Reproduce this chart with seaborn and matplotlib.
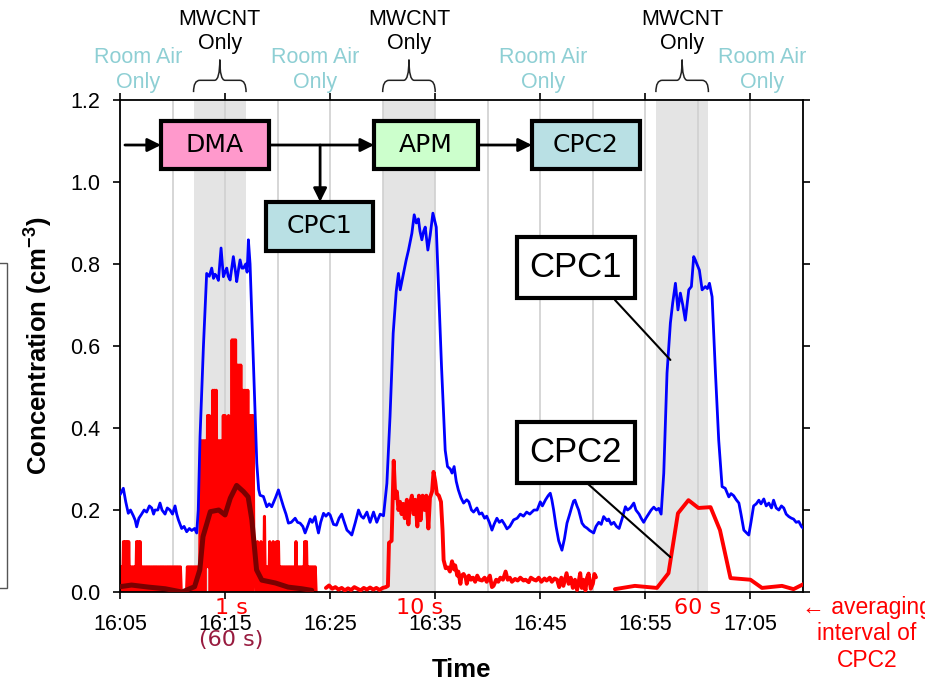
import numpy as np
import matplotlib
matplotlib.use("Agg")
import matplotlib.pyplot as plt
import matplotlib.patches as mpatches
import matplotlib.transforms as mtransforms
from matplotlib.path import Path
import seaborn as sns

# time axis: minutes after 16:05
tick_labels = ["16:05", "16:15", "16:25", "16:35", "16:45", "16:55", "17:05"]
mwcnt_start = [7, 25, 51]
mwcnt_end = [12, 30, 56]
room_air_x = [1.7, 18.6, 40.3, 61.1]

# CPC1 (blue)
cpc1_t = [0.0, 0.32, 0.55, 0.79, 1.0, 1.27, 1.45, 1.59, 1.8, 2.06, 2.3, 2.54, 2.8, 3.02, 3.2, 3.33,
          3.6, 3.81, 4.0, 4.29, 4.5, 4.76, 5.0, 5.24, 5.4, 5.56, 5.87, 6.1, 6.35, 6.6, 6.83, 7.1,
          7.3, 7.45, 7.62, 7.94, 8.25, 8.5, 8.73, 8.9, 9.05, 9.2, 9.37, 9.62, 9.84, 10.0, 10.16,
          10.3, 10.48, 10.79, 11.0, 11.11, 11.3, 11.43, 11.6, 11.75, 11.97, 12.1, 12.22, 12.38,
          12.7, 13.02, 13.2, 13.33, 13.65, 13.97, 14.2, 14.44, 14.8, 15.08, 15.3, 15.56, 15.8,
          16.03, 16.3, 16.67, 16.9, 17.14, 17.4, 17.62, 17.85, 18.1, 18.3, 18.57, 18.75, 18.89,
          19.1, 19.37, 19.6, 19.84, 20.0, 20.32, 20.6, 20.85, 21.1, 21.35, 21.6, 21.85, 22.06,
          22.4, 22.7, 22.95, 23.17, 23.5, 23.8, 24.13, 24.44, 24.76, 25.08, 25.4, 25.7, 26.0,
          26.29, 26.5, 26.67, 26.98, 27.24, 27.46, 27.78, 28.0, 28.2, 28.4, 28.55, 28.73, 28.9,
          29.05, 29.3, 29.52, 29.78, 30.1, 30.3, 30.6, 30.95, 31.17, 31.43, 31.6, 31.8, 32.0,
          32.2, 32.45, 32.7, 33.0, 33.2, 33.45, 33.65, 33.97, 34.2, 34.44, 34.7, 34.9, 35.15,
          35.4, 35.6, 35.87, 36.1, 36.35, 36.6, 36.83, 37.1, 37.46, 37.8, 38.1, 38.4, 38.7, 39.0,
          39.4, 39.7, 40.0, 40.2, 40.5, 40.75, 40.95, 41.1, 41.27, 41.5, 41.75, 42.06, 42.3,
          42.54, 42.8, 43.0, 43.17, 43.3, 43.49, 43.65, 43.97, 44.2, 44.44, 44.7, 45.08, 45.3,
          45.56, 45.8, 46.03, 46.35, 46.5, 46.75, 47.0, 47.25, 47.5, 47.8, 48.1, 48.3, 48.57,
          48.9, 49.1, 49.4, 49.6, 49.84, 50.05, 50.3, 50.55, 50.8, 51.05, 51.27, 51.5, 51.75,
          52.06, 52.38, 52.6, 52.86, 53.1, 53.33, 53.56, 53.8, 54.13, 54.38, 54.6, 54.75, 54.9,
          55.14, 55.4, 55.71, 55.9, 56.1, 56.35, 56.67, 56.98, 57.3, 57.6, 57.94, 58.15, 58.4,
          58.65, 58.9, 59.1, 59.37, 59.6, 59.84, 60.05, 60.3, 60.55, 60.8, 61.0, 61.27, 61.5,
          61.75, 62.0, 62.2, 62.45, 62.7, 62.95, 63.17, 63.4, 63.65, 63.9, 64.1, 64.35, 64.6,
          64.85, 65.0]
cpc1_v = [0.237, 0.253, 0.22, 0.192, 0.2, 0.186, 0.175, 0.159, 0.18, 0.19, 0.2, 0.195, 0.21, 0.205,
          0.19, 0.2, 0.2, 0.217, 0.2, 0.19, 0.205, 0.2, 0.19, 0.21, 0.19, 0.176, 0.155, 0.16, 0.147,
          0.155, 0.15, 0.155, 0.144, 0.2, 0.379, 0.598, 0.777, 0.77, 0.79, 0.765, 0.775, 0.77, 0.76,
          0.839, 0.769, 0.78, 0.79, 0.77, 0.761, 0.818, 0.78, 0.757, 0.79, 0.81, 0.79, 0.79, 0.8,
          0.78, 0.859, 0.8, 0.558, 0.314, 0.25, 0.236, 0.233, 0.208, 0.215, 0.208, 0.23, 0.249,
          0.23, 0.208, 0.19, 0.168, 0.17, 0.18, 0.17, 0.168, 0.16, 0.144, 0.16, 0.178, 0.17, 0.184,
          0.16, 0.144, 0.17, 0.192, 0.185, 0.192, 0.188, 0.165, 0.163, 0.18, 0.19, 0.17, 0.151,
          0.145, 0.139, 0.17, 0.2, 0.185, 0.18, 0.195, 0.17, 0.195, 0.17, 0.19, 0.186, 0.265,
          0.428, 0.631, 0.733, 0.777, 0.737, 0.777, 0.81, 0.834, 0.875, 0.92, 0.9, 0.91, 0.88,
          0.859, 0.88, 0.89, 0.834, 0.87, 0.924, 0.89, 0.753, 0.55, 0.346, 0.306, 0.3, 0.29, 0.306,
          0.27, 0.249, 0.23, 0.217, 0.225, 0.22, 0.2, 0.195, 0.205, 0.19, 0.193, 0.18, 0.185, 0.17,
          0.151, 0.165, 0.18, 0.17, 0.175, 0.165, 0.154, 0.16, 0.176, 0.18, 0.19, 0.185, 0.195,
          0.19, 0.2, 0.2, 0.22, 0.21, 0.225, 0.235, 0.241, 0.225, 0.2, 0.16, 0.125, 0.102, 0.13,
          0.168, 0.19, 0.208, 0.222, 0.224, 0.21, 0.2, 0.168, 0.16, 0.156, 0.15, 0.144, 0.16, 0.17,
          0.165, 0.184, 0.174, 0.178, 0.165, 0.17, 0.16, 0.155, 0.18, 0.208, 0.2, 0.205, 0.217,
          0.2, 0.19, 0.18, 0.17, 0.18, 0.19, 0.2, 0.207, 0.2, 0.204, 0.19, 0.29, 0.534, 0.656,
          0.705, 0.753, 0.688, 0.729, 0.7, 0.663, 0.737, 0.745, 0.818, 0.81, 0.8, 0.785, 0.737,
          0.745, 0.74, 0.753, 0.72, 0.534, 0.37, 0.257, 0.253, 0.232, 0.24, 0.235, 0.225, 0.217,
          0.19, 0.151, 0.145, 0.139, 0.17, 0.21, 0.215, 0.224, 0.215, 0.227, 0.21, 0.217, 0.205,
          0.224, 0.205, 0.2, 0.21, 0.205, 0.19, 0.184, 0.18, 0.178, 0.17, 0.172, 0.16, 0.156]

# CPC2, 1 s data: particle counts per 5 s step, one string per minute (hex digits)
cpc2_1s_counts = ["101020202020", "010101020202", "010101010101", "010101010101",
                  "010101010101", "010101010100", "000001010101", "010101016061",
                  "606171706180", "818061606170", "71607150a1a0", "a19091908180",
                  "818071707110", "020102010301", "010201020102", "020101010101",
                  "010101010201", "010101020201", "010101010"]
count_level = 0.0615   # cm-3 per count

# CPC2, 60 s running mean of the 1 s data
cpc2_avg_t = [0.0, 1.1, 2.7, 4.3, 5.9, 7.1, 7.6, 7.9, 8.6, 9.4, 10.0, 10.5, 11.1, 11.75,
              12.2, 12.55, 13.0, 13.5, 14.8, 16.0, 17.3, 18.25]
cpc2_avg_v = [0.013, 0.017, 0.012, 0.008, 0.0, 0.013, 0.054, 0.135, 0.196, 0.2, 0.188, 0.229,
              0.26, 0.245, 0.232, 0.176, 0.054, 0.029, 0.022, 0.012, 0.008, 0.004]

# CPC2, 10 s data
cpc2_10s_t = [19.6, 19.9, 20.2, 20.5, 20.8, 21.1, 21.4, 21.7, 22.0, 22.3, 22.6, 22.9, 23.2, 23.5,
              23.8, 24.1, 24.4, 24.7, 25.0, 25.3, 25.5, 25.6, 25.85, 26.05, 26.2, 26.35, 26.5,
              26.65, 26.8, 26.95, 27.1, 27.3, 27.45, 27.6, 27.78, 27.95, 28.1, 28.3, 28.45, 28.6,
              28.8, 29.0, 29.15, 29.35, 29.5, 29.7, 29.84, 30.0, 30.15, 30.35, 30.55, 30.7, 30.8,
              31.0, 31.2, 31.4, 31.6, 31.8, 31.9, 32.1, 32.2, 32.4, 32.5, 32.7, 32.9, 33.0, 33.2,
              33.4, 33.6, 33.8, 34.0, 34.2, 34.45, 34.7, 34.9, 35.2, 35.4, 35.55, 35.8, 36.0, 36.2,
              36.45, 36.7, 36.9, 37.1, 37.3, 37.6, 37.85, 38.1, 38.4, 38.6, 38.9, 39.1, 39.4, 39.6,
              39.85, 40.1, 40.4, 40.6, 40.9, 41.1, 41.35, 41.6, 41.8, 42.0, 42.2, 42.5, 42.7, 42.9,
              43.1, 43.3, 43.5, 43.65, 43.8, 43.95, 44.1, 44.3, 44.45, 44.6, 44.8, 45.0, 45.15, 45.3]
cpc2_10s_v = [0.01, 0.016, 0.008, 0.012, 0.006, 0.01, 0.004, 0.009, 0.005, 0.012, 0.008, 0.004,
              0.01, 0.006, 0.011, 0.006, 0.01, 0.005, 0.01, 0.012, 0.015, 0.12, 0.125, 0.32, 0.23,
              0.245, 0.2, 0.22, 0.19, 0.215, 0.18, 0.225, 0.165, 0.215, 0.235, 0.19, 0.225, 0.16,
              0.235, 0.175, 0.235, 0.2, 0.235, 0.155, 0.23, 0.245, 0.293, 0.27, 0.24, 0.235, 0.22,
              0.15, 0.078, 0.058, 0.06, 0.05, 0.075, 0.055, 0.065, 0.04, 0.05, 0.02, 0.04, 0.044,
              0.035, 0.02, 0.04, 0.03, 0.035, 0.025, 0.04, 0.03, 0.028, 0.035, 0.025, 0.04, 0.012,
              0.015, 0.03, 0.025, 0.035, 0.03, 0.05, 0.03, 0.035, 0.025, 0.032, 0.028, 0.035, 0.028,
              0.03, 0.024, 0.035, 0.03, 0.028, 0.035, 0.025, 0.033, 0.028, 0.035, 0.025, 0.033,
              0.03, 0.012, 0.035, 0.015, 0.046, 0.02, 0.035, 0.01, 0.03, 0.005, 0.025, 0.046, 0.01,
              0.03, 0.004, 0.035, 0.045, 0.008, 0.02, 0.044, 0.036]

# CPC2, 60 s data
cpc2_60s_t = [47.1, 49.0, 51.1, 52.2, 53.1, 54.1, 55.05, 56.2, 57.1, 58.1, 60.0, 61.1, 63.0,
              64.1, 65.1]
cpc2_60s_v = [0.007, 0.015, 0.01, 0.046, 0.192, 0.224, 0.205, 0.207, 0.151, 0.034, 0.03, 0.01,
              0.015, 0.007, 0.02]

# ---------------------------------------------------------------------------
sns.set_style("ticks")
plt.rcParams["font.family"] = ["Liberation Sans", "DejaVu Sans"]
plt.rcParams["mathtext.fontset"] = "custom"
plt.rcParams["mathtext.rm"] = "Liberation Sans"
plt.rcParams["mathtext.bf"] = "Liberation Sans:bold"
plt.rcParams["text.color"] = "black"
plt.rcParams["axes.labelcolor"] = "black"
plt.rcParams["path.simplify"] = False   # keep the dense 1 s spikes

fig = plt.figure(figsize=(9.25, 6.83), dpi=100)
ax = fig.add_axes([0.1297, 0.1332, 0.7384, 0.7204])

for a, b in zip(mwcnt_start, mwcnt_end):
    ax.axvspan(a, b, color="#E4E4E4", zorder=0, lw=0)

# 1 s data
counts = [int(c, 16) for s in cpc2_1s_counts for c in s]
t_1s = np.arange(len(counts)) * 5 / 60
sns.lineplot(x=t_1s, y=np.array(counts) * count_level, ax=ax, color="#FF0000", lw=2.2,
             estimator=None, sort=False, zorder=2)
sns.lineplot(x=cpc2_avg_t, y=cpc2_avg_v, ax=ax, color="#7A0000", lw=3.6,
             estimator=None, sort=False, zorder=3)
sns.lineplot(x=cpc1_t, y=cpc1_v, ax=ax, color="#0000FF", lw=2.0,
             estimator=None, sort=False, zorder=4)
sns.lineplot(x=cpc2_10s_t, y=cpc2_10s_v, ax=ax, color="#FF0000", lw=2.8,
             estimator=None, sort=False, zorder=3)
sns.lineplot(x=cpc2_60s_t, y=cpc2_60s_v, ax=ax, color="#FF0000", lw=2.8,
             estimator=None, sort=False, zorder=3)

# axes
tick_pos = [int(s[:2]) * 60 + int(s[3:]) - (16 * 60 + 5) for s in tick_labels]
ax.set_xlim(0, 65)
ax.set_ylim(0, 1.2)
ax.set_xticks(tick_pos)
ax.set_xticklabels(tick_labels)
ax.set_xticks(np.arange(0, 66, 5), minor=True)
ax.set_yticks(np.arange(0, 1.21, 0.2))
ax.set_yticklabels([f"{v:.1f}" for v in np.arange(0, 1.21, 0.2)])
ax.set_axisbelow(True)
ax.grid(True, which="both", axis="x", color="#D0D0D0", lw=1.2)
ax.grid(False, axis="y")
ax.tick_params(which="major", direction="out", length=5, width=1.2, top=True, right=True,
               labelsize=15.5, colors="black")
ax.tick_params(axis="x", pad=11)
ax.tick_params(axis="y", pad=9)
ax.tick_params(which="minor", length=0)
for sp in ax.spines.values():
    sp.set_visible(True)
    sp.set_linewidth(1.3)
    sp.set_color("black")

ax.set_xlabel("Time", fontsize=18.5, fontweight="bold", va="center")
ax.xaxis.set_label_coords(0.5, -0.1585)
ax.set_ylabel("Concentration (cm$^{\\mathbf{-3}}$)", fontsize=18.5, fontweight="bold", va="center")
ax.yaxis.set_label_coords(-0.12, 0.5)

# braces and period labels above the axes
trans = mtransforms.blended_transform_factory(ax.transData, ax.transAxes)
for a, b in zip(mwcnt_start, mwcnt_end):
    w = b - a
    m = (a + b) / 2
    y0, y1, y2 = 1.016, 1.04, 1.082
    verts = [(a, y0), (a, y1), (a + 0.12 * w, y1), (m - 0.1 * w, y1), (m, y1), (m, y2),
             (m, y1), (m + 0.1 * w, y1), (b - 0.12 * w, y1), (b, y1), (b, y0)]
    codes = [Path.MOVETO, Path.CURVE3, Path.CURVE3, Path.LINETO, Path.CURVE3, Path.CURVE3,
             Path.CURVE3, Path.CURVE3, Path.LINETO, Path.CURVE3, Path.CURVE3]
    ax.add_patch(mpatches.PathPatch(Path(verts, codes), transform=trans, fill=False,
                                    ec="#222222", lw=1.1, clip_on=False))
    ax.text(m, 1.139, "MWCNT\nOnly", transform=trans, ha="center", va="center",
            fontsize=15.5, color="black", linespacing=1.2)
for x in room_air_x:
    ax.text(x, 1.061, "Room Air\nOnly", transform=trans, ha="center", va="center",
            fontsize=15.5, color="#8ECFD4", linespacing=1.2)

# flow diagram
def flow_box(x0, x1, y0, y1, label, color):
    ax.add_patch(mpatches.Rectangle((x0, y0), x1 - x0, y1 - y0, transform=ax.transAxes,
                                    facecolor=color, edgecolor="black", lw=3, zorder=6))
    ax.text((x0 + x1) / 2, (y0 + y1) / 2, label, transform=ax.transAxes, ha="center",
            va="center", fontsize=18, family="DejaVu Sans", color="black", zorder=7)

flow_box(0.060, 0.218, 0.860, 0.957, "DMA", "#FF99CC")
flow_box(0.372, 0.524, 0.860, 0.957, "APM", "#CCFFCC")
flow_box(0.603, 0.761, 0.860, 0.957, "CPC2", "#B9E0E4")
flow_box(0.214, 0.370, 0.693, 0.793, "CPC1", "#B9E0E4")

arrow_kw = dict(arrowstyle="-|>", lw=2, color="black", mutation_scale=20, shrinkA=0, shrinkB=0)
for (xa, ya), (xb, yb) in [((0.0073, 0.9085), (0.060, 0.9085)),
                           ((0.218, 0.9085), (0.372, 0.9085)),
                           ((0.524, 0.9085), (0.603, 0.9085)),
                           ((0.293, 0.9085), (0.293, 0.793))]:
    ax.annotate("", xy=(xb, yb), xytext=(xa, ya), xycoords="axes fraction",
                textcoords="axes fraction", arrowprops=arrow_kw, zorder=6)

# series labels
for label, yb, yt, start, end in [("CPC1", 0.598, 0.7215, (0.7247, 0.5935), (52.38, 0.566)),
                                  ("CPC2", 0.2215, 0.3455, (0.6837, 0.2215), (52.38, 0.085))]:
    ax.add_patch(mpatches.Rectangle((0.581, yb), 0.173, yt - yb, transform=ax.transAxes,
                                    facecolor="white", edgecolor="black", lw=3, zorder=8))
    ax.text(0.6675, (yb + yt) / 2, label, transform=ax.transAxes, ha="center", va="center",
            fontsize=25, color="black", zorder=9)
    ax.annotate("", xy=end, xycoords="data", xytext=start, textcoords="axes fraction",
                arrowprops=dict(arrowstyle="-", lw=1.5, color="black", shrinkA=0, shrinkB=0),
                zorder=7)

# averaging interval notes
ax.text(10.57, -0.0325, "1 s", transform=trans, ha="center", va="center", fontsize=16,
        color="#FF0000", family="DejaVu Sans")
ax.text(10.57, -0.0976, "(60 s)", transform=trans, ha="center", va="center", fontsize=16,
        color="#981B3F", family="DejaVu Sans")
ax.text(28.5, -0.0325, "10 s", transform=trans, ha="center", va="center", fontsize=16,
        color="#FF0000", family="DejaVu Sans")
ax.text(54.95, -0.0325, "60 s", transform=trans, ha="center", va="center", fontsize=16,
        color="#FF0000", family="DejaVu Sans")
note = ax.text(71.1, -0.085, "\u2190 averaging\ninterval of\nCPC2", transform=trans,
               ha="center", va="center", fontsize=16.5, color="#FF0000",
               multialignment="center")
note.set_fontfamily(["Liberation Sans", "DejaVu Sans"])
note.set_clip_path(mpatches.Rectangle((0, 0), 905 / 925, 1, transform=fig.transFigure))

# frame of a neighbouring panel cut at the left edge
fig.add_artist(mpatches.Rectangle((-0.05, (683 - 588) / 683), 0.05 + 7 / 925, (588 - 263) / 683,
                                  transform=fig.transFigure, fill=False, ec="#555555", lw=1))

fig.savefig("out.png", dpi=100)
